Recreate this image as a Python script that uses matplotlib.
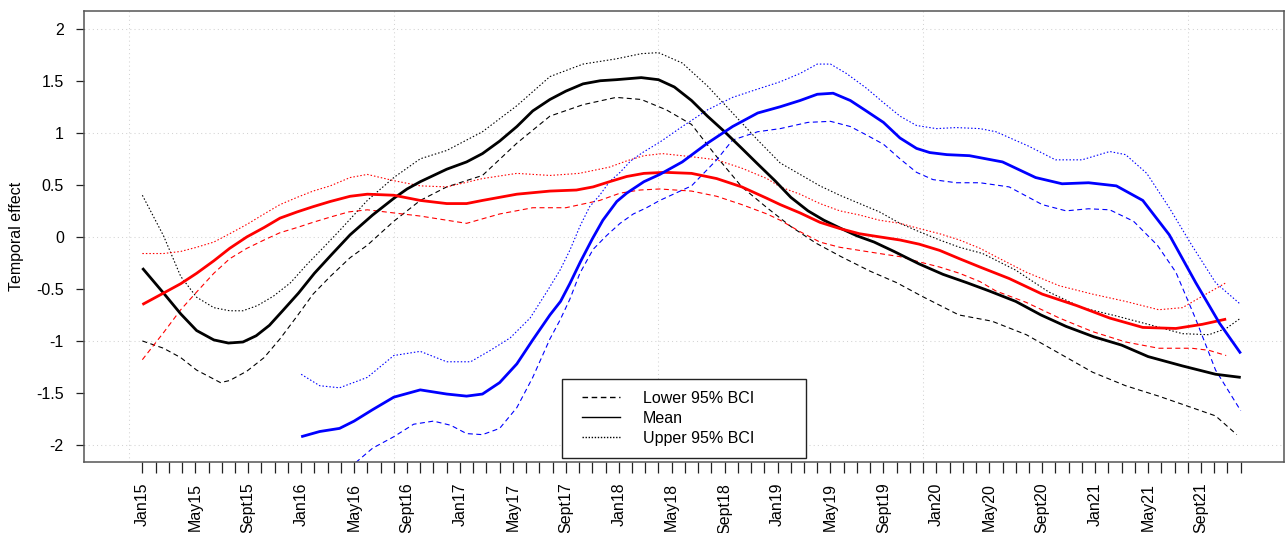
import matplotlib
matplotlib.use("Agg")
import matplotlib.pyplot as plt
from matplotlib.lines import Line2D
from matplotlib.legend_handler import HandlerLine2D

plt.rcParams['font.family'] = ['Liberation Sans', 'DejaVu Sans']
plt.rcParams['axes.unicode_minus'] = False

# ---------------- data (month index: 0 = Jan15) ----------------
month_labels = ['Jan15', 'May15', 'Sept15', 'Jan16', 'May16', 'Sept16', 'Jan17', 'May17',
                'Sept17', 'Jan18', 'May18', 'Sept18', 'Jan19', 'May19', 'Sept19', 'Jan20',
                'May20', 'Sept20', 'Jan21', 'May21', 'Sept21']
n_months = 84
y_ticks = [-2, -1.5, -1, -0.5, 0, 0.5, 1, 1.5, 2]
y_tick_labels = ['-2', '-1.5', '-1', '-0.5', '0', '0.5', '1', '1.5', '2']

# black series
black_mean_x = [0, 1.6, 2.9, 4.1, 5.4, 6.5, 7.6, 8.6, 9.6, 10.6, 11.8, 13.0, 14.3, 15.7, 17.4, 19, 20, 21, 23,
                24.5, 25.7, 27, 28.3, 29.5, 30.8, 32, 33.3, 34.6, 35.8, 37.7, 39, 40.2, 41.5, 42.7, 44, 45.3,
                46.5, 47.8, 49, 50.3, 51.5, 52.8, 54, 55.3, 56.8, 58.7, 60.5, 62.3, 64, 66, 67.9, 69.8, 71.9,
                74, 76, 78.6, 81.1, 83]
black_mean_y = [-0.30, -0.54, -0.74, -0.90, -0.99, -1.02, -1.01, -0.95, -0.85, -0.71, -0.54, -0.35, -0.17, 0.02,
                0.21, 0.37, 0.46, 0.53, 0.65, 0.72, 0.80, 0.92, 1.06, 1.21, 1.32, 1.40, 1.47, 1.50, 1.51, 1.53,
                1.51, 1.44, 1.31, 1.16, 1.01, 0.85, 0.70, 0.54, 0.38, 0.25, 0.16, 0.08, 0.01, -0.05, -0.14,
                -0.26, -0.36, -0.44, -0.52, -0.62, -0.75, -0.86, -0.96, -1.04, -1.15, -1.24, -1.32, -1.35]
black_upper_x = [0, 1.6, 2.9, 4.1, 5.4, 6.6, 7.6, 8.7, 9.9, 11.2, 12.4, 13.7, 14.9, 17, 19, 21, 23, 25.7, 28.3,
                 30.8, 33.3, 35.8, 37.7, 39, 40.8, 42.7, 44.6, 46.5, 48.2, 49.7, 51.2, 52.7, 54.2, 55.7, 57.25,
                 58.7, 60.25, 61.75, 63.5, 66, 68.5, 71, 73.6, 76, 78.6, 80.6, 81.9, 83]
black_upper_y = [0.40, 0.01, -0.38, -0.58, -0.68, -0.71, -0.71, -0.66, -0.57, -0.44, -0.27, -0.10, 0.06, 0.35,
                 0.57, 0.75, 0.83, 1.01, 1.26, 1.54, 1.66, 1.71, 1.76, 1.77, 1.67, 1.45, 1.19, 0.93, 0.71, 0.60,
                 0.49, 0.40, 0.32, 0.24, 0.13, 0.05, -0.03, -0.10, -0.16, -0.32, -0.53, -0.68, -0.76, -0.84,
                 -0.93, -0.94, -0.88, -0.78]
black_lower_x = [0, 1.6, 2.9, 4.1, 5.9, 6.6, 7.9, 9.2, 10.4, 11.7, 12.9, 14.2, 15.7, 17, 19, 21, 23, 25.7, 28.3,
                 30.8, 33.3, 35.8, 37.7, 39.6, 41.5, 43.4, 45.3, 47.2, 49, 50.9, 52.8, 55, 57, 58.9, 61.7, 64.2,
                 66.8, 69.3, 71.8, 74.3, 76.8, 79.3, 81.1, 82.7]
black_lower_y = [-1.00, -1.07, -1.16, -1.28, -1.40, -1.38, -1.29, -1.16, -0.98, -0.76, -0.55, -0.38, -0.20,
                 -0.08, 0.15, 0.35, 0.48, 0.59, 0.90, 1.16, 1.27, 1.34, 1.32, 1.22, 1.08, 0.77, 0.48, 0.28, 0.10,
                 -0.06, -0.19, -0.33, -0.44, -0.57, -0.75, -0.81, -0.94, -1.12, -1.30, -1.43, -1.53, -1.64,
                 -1.72, -1.90]

# red series
red_mean_x = [0, 1.6, 2.9, 4.1, 5.4, 6.6, 7.9, 9.2, 10.4, 11.7, 12.9, 14.2, 15.7, 17, 19, 21, 23, 24.5, 25.7,
              28.3, 30.8, 32.8, 34.06, 35.3, 36.6, 37.9, 39.5, 41.5, 43.4, 45.3, 47.2, 48.2, 49.7, 51.2, 52.7,
              54.2, 55.7, 57.25, 58.7, 60.25, 61.75, 63.3, 65.5, 68, 70.6, 73.1, 75.6, 78.1, 80.1, 81.9]
red_mean_y = [-0.65, -0.54, -0.45, -0.35, -0.23, -0.11, 0.00, 0.09, 0.18, 0.24, 0.29, 0.34, 0.39, 0.41, 0.40,
              0.35, 0.32, 0.32, 0.35, 0.41, 0.44, 0.45, 0.48, 0.53, 0.58, 0.61, 0.62, 0.61, 0.56, 0.48, 0.37,
              0.31, 0.23, 0.14, 0.08, 0.03, 0.00, -0.03, -0.07, -0.13, -0.21, -0.29, -0.40, -0.55, -0.66,
              -0.78, -0.87, -0.88, -0.84, -0.79]
red_upper_x = [0, 1.6, 2.9, 4.1, 5.4, 6.6, 7.9, 9.2, 10.4, 11.7, 12.9, 14.2, 15.7, 17, 19, 21, 23, 25.7, 28.3,
               30.8, 33, 35.3, 36.6, 37.9, 39.3, 41.5, 43.4, 45.3, 47.2, 48.2, 49.7, 51.2, 52.7, 54.2, 55.7,
               57.25, 58.7, 60.25, 61.75, 63.3, 64.8, 66.8, 69.3, 71.8, 74.3, 76.8, 78.6, 80.1, 81.9]
red_upper_y = [-0.16, -0.16, -0.14, -0.10, -0.05, 0.03, 0.12, 0.22, 0.31, 0.38, 0.44, 0.49, 0.57, 0.60, 0.54,
               0.49, 0.48, 0.56, 0.61, 0.59, 0.61, 0.67, 0.73, 0.78, 0.80, 0.77, 0.74, 0.66, 0.56, 0.48, 0.41,
               0.32, 0.25, 0.21, 0.16, 0.13, 0.08, 0.03, -0.03, -0.11, -0.21, -0.34, -0.47, -0.55, -0.62,
               -0.70, -0.68, -0.57, -0.44]
red_lower_x = [0, 1.6, 2.9, 4.1, 5.4, 6.6, 7.9, 9.2, 10.4, 11.7, 12.9, 14.2, 15.6, 17, 19, 21, 23, 24.5, 27,
               29.5, 32, 34.56, 36.1, 37.6, 39.1, 41.5, 43.4, 45.3, 47.2, 48.2, 49.7, 51.2, 52.7, 54.2, 55.7,
               57.25, 58.7, 60.25, 61.75, 63.3, 64.5, 66.8, 69.3, 71.8, 74.3, 76.8, 79.3, 80.6, 81.9]
red_lower_y = [-1.18, -0.92, -0.70, -0.53, -0.35, -0.21, -0.11, -0.03, 0.04, 0.09, 0.14, 0.19, 0.24, 0.26,
               0.23, 0.20, 0.16, 0.13, 0.22, 0.28, 0.28, 0.35, 0.42, 0.45, 0.46, 0.44, 0.39, 0.31, 0.22, 0.16,
               0.05, -0.05, -0.10, -0.13, -0.16, -0.19, -0.24, -0.29, -0.35, -0.43, -0.52, -0.63, -0.78,
               -0.91, -1.01, -1.07, -1.07, -1.09, -1.14]

# blue series
blue_mean_x = [12, 13.4, 14.9, 16, 17.4, 19, 21, 23, 24.5, 25.7, 27, 28.3, 29.5, 30.8, 31.6, 32.3, 33.1, 34.0,
               34.8, 35.85, 36.6, 37.9, 39.1, 40.8, 42.7, 44.6, 46.5, 48.2, 49.7, 51.0, 52.2, 53.5, 54.7, 56.0,
               57.25, 58.5, 59.5, 60.8, 62.5, 65, 67.5, 69.5, 71.5, 73.6, 75.6, 77.6, 79.6, 81.4, 83]
blue_mean_y = [-1.92, -1.87, -1.84, -1.77, -1.66, -1.54, -1.47, -1.51, -1.53, -1.51, -1.40, -1.22, -0.99, -0.75,
               -0.62, -0.45, -0.24, -0.02, 0.16, 0.34, 0.42, 0.53, 0.60, 0.72, 0.90, 1.06, 1.19, 1.25, 1.31,
               1.37, 1.38, 1.31, 1.21, 1.10, 0.95, 0.85, 0.81, 0.79, 0.78, 0.72, 0.57, 0.51, 0.52, 0.49, 0.35,
               0.02, -0.44, -0.83, -1.12]
blue_upper_x = [12, 13.4, 14.9, 17, 19, 21, 23, 24.8, 26.3, 27.8, 29.3, 30.6, 31.56, 32.3, 33.06, 33.8, 34.56,
                35.3, 36.1, 36.9, 37.8, 39.1, 40.8, 42.7, 44.6, 46.5, 48.2, 49.7, 51.0, 52.0, 53.2, 54.7, 56.0,
                57.25, 58.5, 60.0, 61.5, 63.3, 64.5, 67, 69, 71, 73.1, 74.3, 75.9, 77.6, 79.3, 81.1, 83]
blue_upper_y = [-1.32, -1.43, -1.45, -1.35, -1.14, -1.10, -1.20, -1.20, -1.09, -0.97, -0.78, -0.52, -0.32,
                -0.13, 0.10, 0.29, 0.40, 0.53, 0.62, 0.73, 0.81, 0.91, 1.06, 1.22, 1.34, 1.42, 1.49, 1.57, 1.66,
                1.66, 1.57, 1.43, 1.29, 1.16, 1.07, 1.04, 1.05, 1.04, 1.01, 0.87, 0.74, 0.74, 0.82, 0.79, 0.61,
                0.28, -0.08, -0.44, -0.65]
blue_lower_x = [12, 14, 16.2, 17.4, 19, 20.5, 22, 23.3, 24.5, 25.7, 27, 28.3, 29.5, 30.8, 31.56, 32.3, 33.06,
                34.06, 35.06, 36.1, 37.1, 38.1, 39.1, 40.3, 41.5, 43.4, 44.6, 46.5, 48.2, 50.3, 52.0, 53.5, 54.7,
                56.0, 57.25, 58.5, 59.75, 61.5, 63.3, 65.5, 68, 69.8, 71.5, 73.1, 74.9, 76.7, 78.1, 79.6, 81.1, 83]
blue_lower_y = [-2.55, -2.36, -2.16, -2.03, -1.92, -1.80, -1.77, -1.81, -1.89, -1.90, -1.84, -1.64, -1.35,
                -0.98, -0.80, -0.60, -0.35, -0.12, 0.01, 0.13, 0.22, 0.28, 0.35, 0.42, 0.49, 0.74, 0.93, 1.01,
                1.04, 1.10, 1.11, 1.06, 0.98, 0.89, 0.75, 0.62, 0.55, 0.52, 0.52, 0.48, 0.31, 0.25, 0.27, 0.26,
                0.15, -0.08, -0.34, -0.79, -1.28, -1.67]

legend_labels = ['Lower 95% BCI', 'Mean', 'Upper 95% BCI']

# ---------------- styles ----------------
DASH = (4.5, 3.1)
DOT = (1.35, 1.8)
thin = 0.8
thick = 2.0

fig = plt.figure(figsize=(12.85, 5.33), dpi=100)
ax = fig.add_axes([84 / 1285, 1 - 461.7 / 533, 1200 / 1285, 450.7 / 533])

# grid (R grid(): at pretty ticks)
for gx in [-1, 19, 39, 59, 79]:
    ax.axvline(gx, color='#d3d3d3', lw=0.75, dashes=(1, 3), zorder=0)
for gy in [-2, -1, 0, 1, 2]:
    ax.axhline(gy, color='#d3d3d3', lw=0.75, dashes=(1, 3), zorder=0)

series = [
    ('black', black_lower_x, black_lower_y, black_mean_x, black_mean_y, black_upper_x, black_upper_y),
    ('red', red_lower_x, red_lower_y, red_mean_x, red_mean_y, red_upper_x, red_upper_y),
    ('blue', blue_lower_x, blue_lower_y, blue_mean_x, blue_mean_y, blue_upper_x, blue_upper_y),
]
colors = {'black': '#000000', 'red': '#FF0000', 'blue': '#0000FF'}
for name, lx, ly, mx, my, ux, uy in series:
    c = colors[name]
    ax.plot(lx, ly, color=c, lw=thin, dashes=DASH, zorder=2, dash_joinstyle='round')
    ax.plot(ux, uy, color=c, lw=thin, dashes=DOT, zorder=2, dash_joinstyle='round')
    ax.plot(mx, my, color=c, lw=thick, zorder=3, solid_capstyle='butt', solid_joinstyle='round')

ax.set_xlim(-4.41, 86.27)
ax.set_ylim(-2.16, 2.17)

# x ticks: every month, labels every 4 months
ax.set_xticks(list(range(n_months)))
xl = []
k = 0
for i in range(n_months):
    if i % 4 == 0 and k < len(month_labels):
        xl.append(month_labels[k])
        k += 1
    else:
        xl.append('')
ax.set_xticklabels(xl, rotation=90, fontsize=11.5)
ax.tick_params(axis='x', length=7.6, width=0.9, pad=7.5, color='#222222')

ax.set_yticks(y_ticks)
ax.set_yticklabels(y_tick_labels, fontsize=11.5)
ax.tick_params(axis='y', length=6.1, width=0.9, pad=8.4, color='#222222')

for s in ax.spines.values():
    s.set_color('#555555')
    s.set_linewidth(1.1)

ax.set_ylabel('Temporal effect', fontsize=11.5)
ax.yaxis.set_label_coords(-0.05, 0.5)

# legend
handles = [Line2D([], [], color='black', lw=1.0, dashes=(4.0, 2.6)),
           Line2D([], [], color='black', lw=1.0),
           Line2D([], [], color='black', lw=1.0, dashes=(1.0, 1.2))]
hmap = {h: HandlerLine2D(marker_pad=0.5, numpoints=2) for h in handles}
leg = ax.legend(handles, legend_labels, loc='lower left',
                bbox_to_anchor=(0.3983, 0.0091, 0.2033, 0.18), mode='expand',
                borderaxespad=0, fontsize=11.5, frameon=True, fancybox=False,
                edgecolor='#222222', framealpha=1, borderpad=0.75, labelspacing=0.3,
                handlelength=3.38, handletextpad=0.94, handler_map=hmap)
leg.get_frame().set_linewidth(1.0)

fig.savefig('out.png', dpi=100)
